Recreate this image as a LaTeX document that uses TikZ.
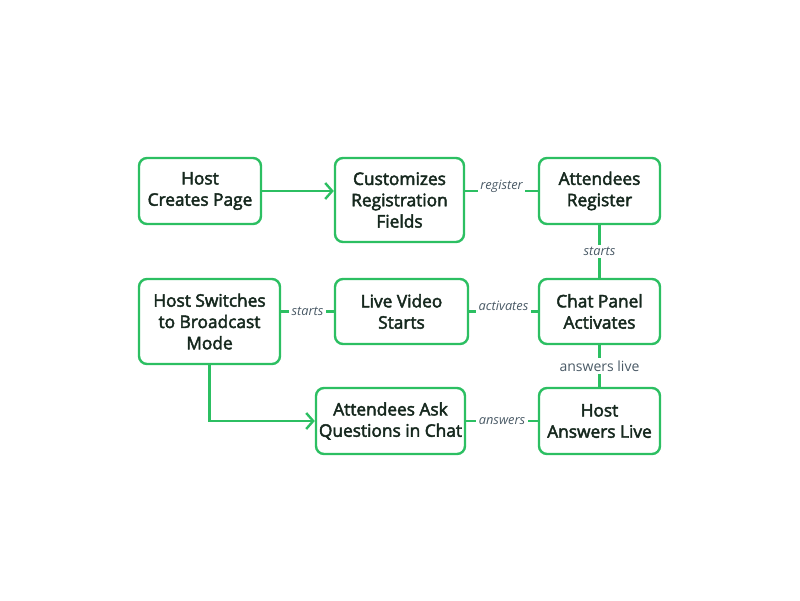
\documentclass[tikz,border=0pt]{standalone}
\usepackage{fontspec}
\setmainfont{Open Sans}
\newfontfamily\boxfont{Open Sans}[FakeBold=2.6]
\usetikzlibrary{arrows.meta}
\definecolor{gr}{HTML}{2CBF62}
\definecolor{tx}{HTML}{16281E}
\definecolor{lb}{HTML}{4A5A66}
\tikzset{
  box/.style={draw=gr, line width=2.4pt, rounded corners=8pt, fill=white, text=tx,
    align=center, inner sep=0pt, font=\boxfont\fontsize{17.3}{21.3}\selectfont},
  conn/.style={draw=gr, line width=2.4pt},
  arr/.style={conn, -{Straight Barb[length=7pt,width=16pt,line width=2.4pt]}},
  lab/.style={fill=white, text=lb, inner sep=2.5pt, font=\fontsize{12.8}{14}\selectfont\itshape},
  labu/.style={fill=white, text=lb, inner sep=2.5pt, font=\fontsize{14}{14}\selectfont},
}
\begin{document}
\begin{tikzpicture}[x=1pt,y=-1pt]
\useasboundingbox (0,0) rectangle (800,600);
\node[box, minimum width=122pt, minimum height=66pt] (a) at (200,191) {Host\\Creates Page};
\node[box, minimum width=129pt, minimum height=84pt] (b) at (399.5,200) {Customizes\\Registration\\Fields};
\node[box, minimum width=121pt, minimum height=66pt] (c) at (599.5,191) {Attendees\\Register};
\node[box, minimum width=141pt, minimum height=85pt] (d) at (209.5,321.5) {Host Switches\\to Broadcast\\Mode};
\node[box, minimum width=133pt, minimum height=65pt] (e) at (401.5,311.5) {Live Video\\Starts};
\node[box, minimum width=121pt, minimum height=65pt] (f) at (599.5,311.5) {Chat Panel\\Activates};
\node[box, minimum width=149pt, minimum height=66pt] (g) at (390.5,421) {Attendees Ask\\Questions in Chat};
\node[box, minimum width=121pt, minimum height=66pt] (h) at (599.5,421) {Host\\Answers Live};

\draw[arr] (a.east) -- (b.west |- a.east);
\draw[conn] (b.east |- c.west) -- node[lab, yshift=5pt] {register} (c.west);
\draw[conn] (c.south) -- node[lab] {starts} (f.north);
\draw[conn] (f.west) -- node[lab, yshift=6pt] {activates} (e.east);
\draw[conn] (e.west) -- node[lab] {starts} (d.east |- e.west);
\draw[conn] (f.south) -- node[labu] {answers live} (h.north);
\draw[conn] (h.west) -- node[lab] {answers} (g.east |- h.west);
\draw[arr] (d.south) |- (g.west);
\end{tikzpicture}
\end{document}
